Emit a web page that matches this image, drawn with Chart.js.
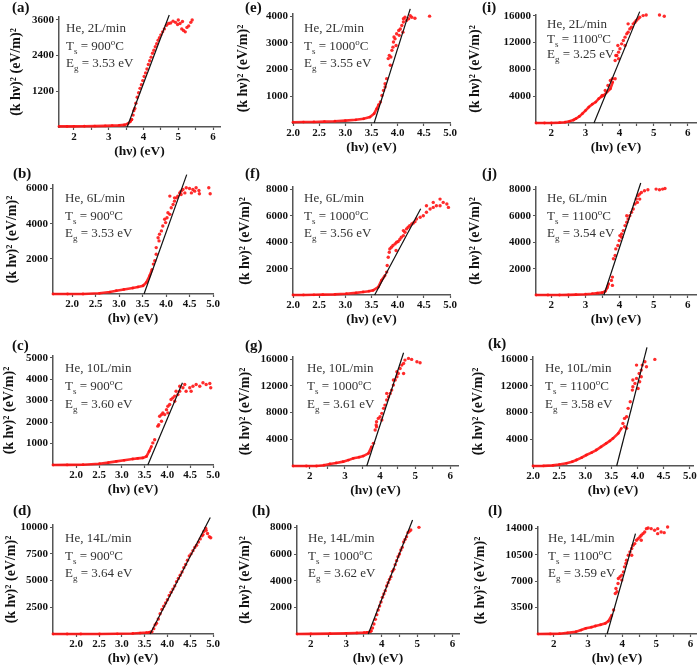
<!DOCTYPE html>
<html>
<head>
<meta charset="utf-8">
<script src="https://cdn.jsdelivr.net/npm/chart.js@4.4.0/dist/chart.umd.min.js"></script>
<style>
    body { margin: 0; width: 700px; height: 665px; position: relative; overflow: hidden; background: #fff; font-family: 'Liberation Serif', serif; }
    canvas { position: absolute; }
    .tag { position: absolute; font-weight: bold; font-size: 15px; line-height: 15px; color: #111; }
    .note { position: absolute; font-size: 13px; color: #333; white-space: nowrap; }
    .note sub, .note sup { font-size: 9px; line-height: 0; }
</style>
</head>
<body>
<script>
// tick labels
const intTicks = ['2', '3', '4', '5', '6'];
const intMinor = [2.5, 3.5, 4.5, 5.5];
const decTicks = ['2.0', '2.5', '3.0', '3.5', '4.0', '4.5', '5.0'];

// (a) He 2L/min, 900C
const aNote = ['2L/min', '900', '3.53'];
const aYTicks = [1200, 2400, 3600];
const aCurveX = [1.57, 1.8, 2.0, 2.3, 2.6, 2.9, 3.1, 3.3, 3.45, 3.55, 3.62, 3.66];
const aCurveY = [20, 20, 22, 25, 30, 38, 45, 55, 70, 110, 180, 250];
const aDotsX = [3.66, 3.70, 3.72, 3.75, 3.78, 3.82, 3.86, 3.90, 3.94, 3.98, 4.02, 4.06, 4.10, 4.14, 4.18, 4.22, 4.26, 4.30, 4.34, 4.38, 4.42, 4.46, 4.50, 4.55, 4.60, 4.66, 4.72, 4.78, 4.85, 4.92, 5.00, 5.05, 5.10, 5.15, 5.20, 5.25, 5.30, 5.36, 5.40, 4.98, 5.12];
const aDotsY = [250, 400, 550, 620, 800, 1000, 1150, 1300, 1420, 1560, 1700, 1820, 1950, 2100, 2230, 2350, 2480, 2580, 2700, 2800, 2920, 3000, 3100, 3200, 3300, 3420, 3480, 3500, 3560, 3520, 3600, 3480, 3300, 3250, 3200, 3350, 3400, 3520, 3600, 3450, 3550];
const aFitX = [3.53, 4.74];
const aFitY = [0, 3770];

// (e) He 2L/min, 1000C
const eNote = ['2L/min', '1000', '3.55'];
const eYTicks = [1000, 2000, 3000, 4000];
const eCurveX = [2.0, 2.2, 2.4, 2.6, 2.8, 3.0, 3.2, 3.35, 3.47, 3.55, 3.60, 3.64];
const eCurveY = [30, 35, 40, 50, 65, 90, 120, 160, 220, 350, 535, 700];
const eDotsX = [3.67, 3.70, 3.73, 3.76, 3.76, 3.79, 3.82, 3.84, 3.86, 3.87, 3.89, 3.91, 3.92, 3.93, 3.95, 3.97, 3.98, 4.02, 4.03, 4.05, 4.08, 4.10, 4.11, 4.11, 4.14, 4.17, 4.21, 4.24, 4.27, 4.33, 4.61];
const eDotsY = [785, 1030, 1220, 1470, 1345, 1660, 2410, 2530, 2160, 2470, 2720, 2840, 3030, 3220, 3150, 2900, 3340, 3460, 3280, 3520, 3650, 3400, 3780, 3900, 3960, 3840, 3900, 4020, 3960, 3920, 4000];
const eFitX = [3.55, 4.24];
const eFitY = [0, 4270];

// (i) He 2L/min, 1100C
const iNote = ['2L/min', '1100', '3.25'];
const iYTicks = [4000, 8000, 12000, 16000];
const iCurveX = [1.55, 1.8, 2.0, 2.24, 2.4, 2.53, 2.65, 2.72, 2.82, 2.91, 3.0, 3.1, 3.2, 3.3, 3.39, 3.46, 3.53, 3.63, 3.73, 3.8];
const iCurveY = [0, 0, 10, 50, 120, 250, 450, 640, 980, 1390, 1850, 2380, 2800, 3120, 3620, 3900, 4110, 4610, 5100, 6100];
const iDotsX = [3.49, 3.58, 3.66, 3.73, 3.79, 3.87, 3.87, 3.89, 3.92, 3.95, 3.97, 3.97, 4.01, 4.06, 4.11, 4.16, 4.16, 4.21, 4.25, 4.25, 4.30, 4.35, 4.40, 4.45, 4.49, 4.54, 4.59, 4.69, 4.78, 5.17, 5.31];
const iDotsY = [4110, 4860, 5600, 6350, 6590, 6590, 9320, 10060, 10060, 11550, 10560, 9570, 11060, 11800, 12300, 12800, 11550, 13290, 13540, 14780, 14030, 14280, 14780, 15020, 15270, 15520, 15770, 16010, 16110, 16110, 15910];
const iFitX = [3.25, 4.59];
const iFitY = [0, 16600];

// (b) He 6L/min, 900C
const bNote = ['6L/min', '900', '3.53'];
const bYTicks = [2000, 4000, 6000];
const bCurveX = [1.59, 1.9, 2.23, 2.58, 2.8, 2.94, 3.1, 3.29, 3.4, 3.51, 3.58, 3.65, 3.70];
const bCurveY = [0, 0, 0, 40, 110, 190, 260, 340, 400, 470, 660, 1040, 1400];
const bDotsX = [3.73, 3.76, 3.79, 3.79, 3.83, 3.85, 3.86, 3.90, 3.93, 3.97, 3.99, 4.02, 4.04, 4.08, 4.08, 4.11, 4.15, 4.18, 4.18, 4.22, 4.25, 4.29, 4.32, 4.32, 4.36, 4.40, 4.43, 4.50, 4.54, 4.57, 4.61, 4.64, 4.70, 4.71, 4.91, 4.94];
const bDotsY = [1700, 1890, 2260, 2640, 3200, 3020, 3400, 3590, 3870, 4250, 4060, 4340, 4620, 4530, 5570, 4910, 5090, 5280, 5470, 5470, 5570, 5750, 5850, 5660, 5940, 5750, 6040, 6000, 5750, 5940, 5850, 6040, 5890, 5700, 6040, 5700];
const bFitX = [3.53, 4.44];
const bFitY = [0, 6790];

// (f) He 6L/min, 1000C
const fNote = ['6L/min', '1000', '3.56'];
const fYTicks = [2000, 4000, 6000, 8000];
const fCurveX = [2.0, 2.2, 2.4, 2.57, 2.8, 3.02, 3.2, 3.34, 3.45, 3.53, 3.63, 3.69, 3.76];
const fCurveY = [0, 5, 15, 25, 50, 100, 160, 230, 290, 350, 600, 1110, 1490];
const fDotsX = [3.79, 3.80, 3.82, 3.84, 3.85, 3.88, 3.91, 3.95, 3.97, 3.98, 4.01, 4.04, 4.07, 4.11, 4.11, 4.14, 4.17, 4.20, 4.23, 4.27, 4.30, 4.33, 4.36, 4.43, 4.49, 4.55, 4.55, 4.62, 4.68, 4.68, 4.74, 4.81, 4.81, 4.87, 4.94, 4.97];
const fDotsY = [1740, 2240, 2870, 3250, 3500, 3630, 3760, 3880, 3380, 4010, 4060, 4210, 4390, 4510, 4890, 4760, 5020, 5140, 5270, 5390, 5470, 5570, 5770, 5900, 6020, 6280, 6780, 6530, 6650, 7030, 6780, 7280, 6780, 7030, 6910, 6650];
const fFitX = [3.56, 4.44];
const fFitY = [0, 6550];

// (j) He 6L/min, 1100C
const jNote = ['6L/min', '1100', '3.54'];
const jYTicks = [2000, 4000, 6000, 8000];
const jCurveX = [1.55, 1.9, 2.24, 2.5, 2.72, 3.0, 3.2, 3.35, 3.49, 3.58, 3.64, 3.68];
const jCurveY = [0, 0, 0, 10, 25, 60, 100, 140, 180, 280, 550, 860];
const jDotsX = [3.76, 3.79, 3.79, 3.82, 3.87, 3.89, 3.95, 3.99, 4.01, 4.06, 4.06, 4.11, 4.16, 4.21, 4.21, 4.25, 4.30, 4.35, 4.40, 4.45, 4.49, 4.52, 4.54, 4.59, 4.59, 4.64, 4.73, 4.83, 5.07, 5.17, 5.26, 5.33];
const jDotsY = [1110, 1360, 730, 2750, 3000, 3500, 3760, 4130, 4510, 4640, 4390, 4890, 5270, 5520, 6020, 5770, 6020, 6280, 6530, 6910, 7280, 7030, 7540, 7660, 7280, 7790, 7910, 7990, 8040, 7990, 8040, 8090];
const jFitX = [3.54, 4.62];
const jFitY = [0, 8500];

// (c) He 10L/min, 900C
const cNote = ['10L/min', '900', '3.60'];
const cYTicks = [1000, 2000, 3000, 4000, 5000];
const cCurveX = [1.49, 1.8, 2.15, 2.51, 2.7, 2.88, 3.05, 3.24, 3.35, 3.46, 3.54, 3.60, 3.65];
const cCurveY = [0, 5, 15, 60, 110, 170, 220, 280, 310, 330, 400, 640, 870];
const cDotsX = [3.68, 3.72, 3.79, 3.81, 3.83, 3.87, 3.87, 3.90, 3.94, 3.98, 4.01, 4.01, 4.05, 4.08, 4.12, 4.16, 4.16, 4.19, 4.23, 4.27, 4.27, 4.34, 4.38, 4.41, 4.49, 4.52, 4.56, 4.63, 4.71, 4.78, 4.85, 4.93, 4.95];
const cDotsY = [1030, 1180, 1810, 1880, 2270, 2350, 2040, 2430, 2350, 2580, 2740, 2430, 2820, 3050, 3130, 3210, 2970, 3440, 3280, 3440, 3670, 3600, 3750, 3440, 3600, 3440, 3670, 3750, 3670, 3830, 3750, 3800, 3600];
const cFitX = [3.57, 4.33];
const cFitY = [0, 3830];

// (g) He 10L/min, 1000C
const gNote = ['10L/min', '1000', '3.61'];
const gYTicks = [4000, 8000, 12000, 16000];
const gCurveX = [1.52, 1.9, 2.19, 2.4, 2.57, 2.75, 2.95, 3.1, 3.24, 3.4, 3.52, 3.67, 3.76];
const gCurveY = [0, 0, 0, 120, 300, 460, 650, 880, 1150, 1320, 1490, 1890, 2890];
const gDotsX = [3.81, 3.86, 3.89, 3.90, 3.90, 3.95, 4.00, 4.05, 4.05, 4.10, 4.14, 4.19, 4.19, 4.24, 4.29, 4.33, 4.38, 4.38, 4.43, 4.48, 4.48, 4.52, 4.57, 4.62, 4.67, 4.67, 4.71, 4.81, 4.90, 5.05, 5.14];
const gDotsY = [3390, 5380, 6130, 6620, 5880, 7120, 7370, 7870, 6870, 8620, 9110, 9860, 10860, 10360, 10860, 11350, 12100, 12850, 12850, 13350, 14090, 13840, 14590, 15090, 15340, 13840, 15840, 16090, 15940, 15590, 15440];
const gFitX = [3.62, 4.67];
const gFitY = [0, 16930];

// (k) He 10L/min, 1100C
const kNote = ['10L/min', '1100', '3.58'];
const kYTicks = [4000, 8000, 12000, 16000];
const kCurveX = [2.0, 2.2, 2.38, 2.5, 2.64, 2.75, 2.83, 2.93, 3.02, 3.12, 3.21, 3.3, 3.4, 3.47, 3.53, 3.63, 3.69];
const kCurveY = [0, 20, 100, 220, 400, 650, 900, 1250, 1640, 2000, 2390, 2850, 3390, 3750, 4130, 4880, 5630];
const kDotsX = [3.72, 3.75, 3.75, 3.79, 3.79, 3.82, 3.86, 3.90, 3.91, 3.91, 3.95, 3.98, 3.98, 4.01, 4.03, 4.04, 4.07, 4.07, 4.09, 4.14, 4.17, 4.33];
const kDotsY = [6370, 7120, 5880, 7370, 5630, 8620, 9610, 11350, 12850, 11850, 12350, 13100, 15090, 11600, 13840, 12600, 14340, 13350, 15090, 15590, 14840, 15940];
const kFitX = [3.60, 4.18];
const kFitY = [0, 17730];

// (d) He 14L/min, 900C
const dNote = ['14L/min', '900', '3.64'];
const dYTicks = [2500, 5000, 7500, 10000];
const dCurveX = [1.49, 1.8, 2.1, 2.51, 2.9, 3.24, 3.4, 3.54, 3.60, 3.64];
const dCurveY = [0, 0, 0, 0, 20, 50, 90, 130, 160, 200];
const dDotsX = [3.66, 3.70, 3.73, 3.76, 3.80, 3.84, 3.88, 3.92, 3.96, 4.00, 4.04, 4.08, 4.12, 4.16, 4.20, 4.24, 4.28, 4.32, 4.36, 4.40, 4.44, 4.48, 4.52, 4.56, 4.60, 4.64, 4.68, 4.72, 4.76, 4.80, 4.84, 4.88, 4.92, 4.95, 4.85, 4.78];
const dDotsY = [200, 500, 850, 1000, 1400, 1900, 2300, 2600, 2900, 3200, 3600, 3900, 4200, 4500, 4900, 5200, 5500, 5800, 6200, 6500, 6900, 7300, 7500, 7800, 8100, 8300, 8600, 8900, 9200, 9600, 9900, 9400, 9100, 9000, 9700, 9300];
const dFitX = [3.62, 4.94];
const dFitY = [0, 10900];

// (h) He 14L/min, 1000C
const hNote = ['14L/min', '1000', '3.62'];
const hYTicks = [2000, 4000, 6000, 8000];
const hCurveX = [1.61, 2.0, 2.54, 3.0, 3.3, 3.5, 3.58, 3.65, 3.70];
const hCurveY = [0, 10, 25, 50, 75, 100, 120, 150, 200];
const hDotsX = [3.70, 3.74, 3.78, 3.82, 3.86, 3.90, 3.94, 3.98, 4.02, 4.06, 4.10, 4.14, 4.18, 4.22, 4.26, 4.30, 4.34, 4.38, 4.42, 4.46, 4.50, 4.54, 4.58, 4.62, 4.66, 4.70, 4.74, 4.78, 4.82, 5.05];
const hDotsY = [250, 450, 750, 1100, 1450, 1800, 2100, 2400, 2750, 3000, 3250, 3600, 3850, 4100, 4300, 4700, 4850, 5200, 5500, 5800, 6000, 6300, 6500, 6900, 7100, 7300, 7600, 7700, 7800, 8000];
const hFitX = [3.62, 4.87];
const hFitY = [0, 8550];

// (l) He 14L/min, 1100C
const lNote = ['14L/min', '1100', '3.59'];
const lYTicks = [3500, 7000, 10500, 14000];
const lCurveX = [1.54, 1.9, 2.17, 2.4, 2.65, 2.8, 2.94, 3.1, 3.22, 3.37, 3.51, 3.60, 3.70];
const lCurveY = [0, 10, 40, 150, 310, 520, 750, 900, 1060, 1230, 1410, 1720, 2510];
const lDotsX = [3.75, 3.80, 3.82, 3.85, 3.88, 3.89, 3.94, 3.99, 3.99, 4.04, 4.07, 4.11, 4.13, 4.18, 4.23, 4.28, 4.28, 4.32, 4.37, 4.42, 4.47, 4.52, 4.56, 4.56, 4.61, 4.66, 4.71, 4.76, 4.85, 4.95, 5.04, 5.04, 5.14, 5.23, 5.33];
const lDotsY = [3180, 5380, 6040, 5600, 6700, 7370, 7590, 7810, 7150, 8250, 8910, 9350, 9790, 10450, 10900, 11340, 10450, 11780, 12000, 12440, 12660, 12880, 13100, 12440, 13320, 13540, 13980, 14070, 13980, 13760, 13980, 13320, 13540, 13450, 14200];
const lFitX = [3.56, 4.39];
const lFitY = [0, 13320];

const RED = 'rgba(255, 20, 20, 0.9)';
const AXIS = '#555';
const tickFont = { family: 'Liberation Serif', size: 11, weight: 'bold' };

function pts(xs, ys) {
    return xs.map((x, i) => ({ x: x, y: ys[i] }));
}

// box = [left, top, right, bottom] of the plot area in page pixels
const panels = [
    { tag: '(a)', tagPos: [12, 0], noteAt: [66, 19, 17.5], titleX: 16, box: [59, 17, 220, 127], xr: [1.57, 6.2], yr: [0, 3700], xt: intTicks, xm: intMinor, yt: aYTicks, note: aNote, cx: aCurveX, cy: aCurveY, dx: aDotsX, dy: aDotsY, fx: aFitX, fy: aFitY },
    { tag: '(e)', tagPos: [245, 0], noteAt: [304, 19, 17.5], titleX: 243, box: [293, 14, 450, 123], xr: [2.0, 5.0], yr: [0, 4080], xt: decTicks, xm: [], yt: eYTicks, note: eNote, cx: eCurveX, cy: eCurveY, dx: eDotsX, dy: eDotsY, fx: eFitX, fy: eFitY },
    { tag: '(i)', tagPos: [482, 0], noteAt: [547, 16, 15], titleX: 475, box: [536, 15, 699, 123], xr: [1.55, 6.24], yr: [0, 16100], xt: intTicks, xm: intMinor, yt: iYTicks, note: iNote, cx: iCurveX, cy: iCurveY, dx: iDotsX, dy: iDotsY, fx: iFitX, fy: iFitY },
    { tag: '(b)', tagPos: [13, 165.5], noteAt: [65, 189, 17.5], titleX: 12, box: [53, 185.4, 213, 295], xr: [1.59, 5.0], yr: [0, 6200], xt: decTicks, xm: [], yt: bYTicks, note: bNote, cx: bCurveX, cy: bCurveY, dx: bDotsX, dy: bDotsY, fx: bFitX, fy: bFitY },
    { tag: '(f)', tagPos: [245, 165.5], noteAt: [304, 189, 17.5], titleX: 245, box: [293, 186.8, 450, 295], xr: [2.0, 5.0], yr: [0, 8200], xt: decTicks, xm: [], yt: fYTicks, note: fNote, cx: fCurveX, cy: fCurveY, dx: fDotsX, dy: fDotsY, fx: fFitX, fy: fFitY },
    { tag: '(j)', tagPos: [482, 165.5], noteAt: [547, 189, 17.5], titleX: 475, box: [536, 186.8, 699, 295], xr: [1.55, 6.24], yr: [0, 8200], xt: intTicks, xm: intMinor, yt: jYTicks, note: jNote, cx: jCurveX, cy: jCurveY, dx: jDotsX, dy: jDotsY, fx: jFitX, fy: jFitY },
    { tag: '(c)', tagPos: [12, 337.5], noteAt: [65, 359, 18], titleX: 9, box: [53, 356, 213, 465], xr: [1.49, 5.0], yr: [0, 5080], xt: decTicks, xm: [], yt: cYTicks, note: cNote, cx: cCurveX, cy: cCurveY, dx: cDotsX, dy: cDotsY, fx: cFitX, fy: cFitY },
    { tag: '(g)', tagPos: [245, 337.5], noteAt: [307, 359, 18], titleX: 245, box: [293, 357, 458, 466], xr: [1.52, 6.22], yr: [0, 16300], xt: intTicks, xm: intMinor, yt: gYTicks, note: gNote, cx: gCurveX, cy: gCurveY, dx: gDotsX, dy: gDotsY, fx: gFitX, fy: gFitY },
    { tag: '(k)', tagPos: [488, 336], noteAt: [545, 359, 18], titleX: 478, box: [533, 357, 693, 466], xr: [2.0, 5.06], yr: [0, 16300], xt: decTicks, xm: [], yt: kYTicks, note: kNote, cx: kCurveX, cy: kCurveY, dx: kDotsX, dy: kDotsY, fx: kFitX, fy: kFitY },
    { tag: '(d)', tagPos: [13, 502.5], noteAt: [65, 529, 17.5], titleX: 11, box: [53, 525, 213, 634], xr: [1.49, 5.0], yr: [0, 10200], xt: decTicks, xm: [], yt: dYTicks, note: dNote, cx: dCurveX, cy: dCurveY, dx: dDotsX, dy: dDotsY, fx: dFitX, fy: dFitY },
    { tag: '(h)', tagPos: [252, 502.5], noteAt: [308, 529, 17.5], titleX: 245, box: [297, 526, 459, 634], xr: [1.61, 6.18], yr: [0, 8100], xt: intTicks, xm: intMinor, yt: hYTicks, note: hNote, cx: hCurveX, cy: hCurveY, dx: hDotsX, dy: hDotsY, fx: hFitX, fy: hFitY },
    { tag: '(l)', tagPos: [488, 502.5], noteAt: [548, 529, 17.5], titleX: 480, box: [538, 527, 699, 634], xr: [1.54, 6.16], yr: [0, 14200], xt: intTicks, xm: intMinor, yt: lYTicks, note: lNote, cx: lCurveX, cy: lCurveY, dx: lDotsX, dy: lDotsY, fx: lFitX, fy: lFitY }
];

function addText(p) {
    const tag = document.createElement('div');
    tag.className = 'tag';
    tag.style.left = p.tagPos[0] + 'px';
    tag.style.top = p.tagPos[1] + 'px';
    tag.textContent = p.tag;
    document.body.appendChild(tag);

    const note = document.createElement('div');
    note.className = 'note';
    note.style.left = p.noteAt[0] + 'px';
    note.style.top = p.noteAt[1] + 'px';
    note.style.lineHeight = p.noteAt[2] + 'px';
    note.innerHTML = 'He, ' + p.note[0] + '<br>T<sub>s</sub> = ' + p.note[1] +
        '<sup>o</sup>C<br>E<sub>g</sub> = ' + p.note[2] + ' eV';
    document.body.appendChild(note);
}

function makePanel(p) {
    const [L, T, R, B] = p.box;
    const left = p.titleX - 12;
    const top = T - 14;
    const right = Math.min(700, R + 14);
    const bottom = B + 37;

    const cv = document.createElement('canvas');
    cv.width = right - left;
    cv.height = bottom - top;
    cv.style.left = left + 'px';
    cv.style.top = top + 'px';
    document.body.appendChild(cv);

    const xVals = p.xt.map(Number).concat(p.xm);

    new Chart(cv.getContext('2d'), {
        type: 'scatter',
        data: {
            datasets: [
                { data: pts(p.fx, p.fy), showLine: true, borderColor: '#111', borderWidth: 1.2, pointRadius: 0, clip: false, order: 0 },
                { data: pts(p.dx, p.dy), backgroundColor: RED, borderWidth: 0, pointRadius: 1.7, clip: false, order: 1 },
                { data: pts(p.cx, p.cy), showLine: true, borderColor: RED, borderWidth: 2.6, backgroundColor: RED, pointBorderWidth: 0, pointRadius: 1.4, clip: false, order: 2 }
            ]
        },
        options: {
            responsive: false,
            animation: false,
            events: [],
            layout: { padding: { top: 14, right: right - R, left: 0, bottom: 0 } },
            plugins: { legend: { display: false }, tooltip: { enabled: false } },
            scales: {
                x: {
                    type: 'linear',
                    min: p.xr[0],
                    max: p.xr[1],
                    border: { color: AXIS, width: 1.5 },
                    grid: { drawOnChartArea: false, tickLength: 3, color: AXIS, tickWidth: 1.2 },
                    ticks: {
                        font: tickFont, color: '#111', padding: 1, autoSkip: false, maxRotation: 0,
                        callback: function (v) {
                            const hit = p.xt.find(t => Math.abs(Number(t) - v) < 1e-6);
                            return hit === undefined ? '' : hit;
                        }
                    },
                    title: { display: true, text: '(hν) (eV)', color: '#111', font: { family: 'Liberation Serif', size: 13.5, weight: 'bold' } },
                    afterBuildTicks: s => { s.ticks = xVals.map(v => ({ value: v })); },
                    afterFit: s => { s.height = 37; }
                },
                y: {
                    type: 'linear',
                    min: p.yr[0],
                    max: p.yr[1],
                    border: { color: AXIS, width: 1.5 },
                    grid: { drawOnChartArea: false, tickLength: 3, color: AXIS, tickWidth: 1.2 },
                    ticks: { font: tickFont, color: '#111', padding: 2, autoSkip: false, callback: v => String(v) },
                    title: { display: true, text: '(k hν)² (eV/m)²', color: '#111', font: { family: 'Liberation Serif', size: 14, weight: 'bold' } },
                    afterBuildTicks: s => { s.ticks = p.yt.map(v => ({ value: v })); },
                    afterFit: s => { s.width = L - left; }
                }
            }
        }
    });

    addText(p);
}

panels.forEach(makePanel);
</script>
</body>
</html>
